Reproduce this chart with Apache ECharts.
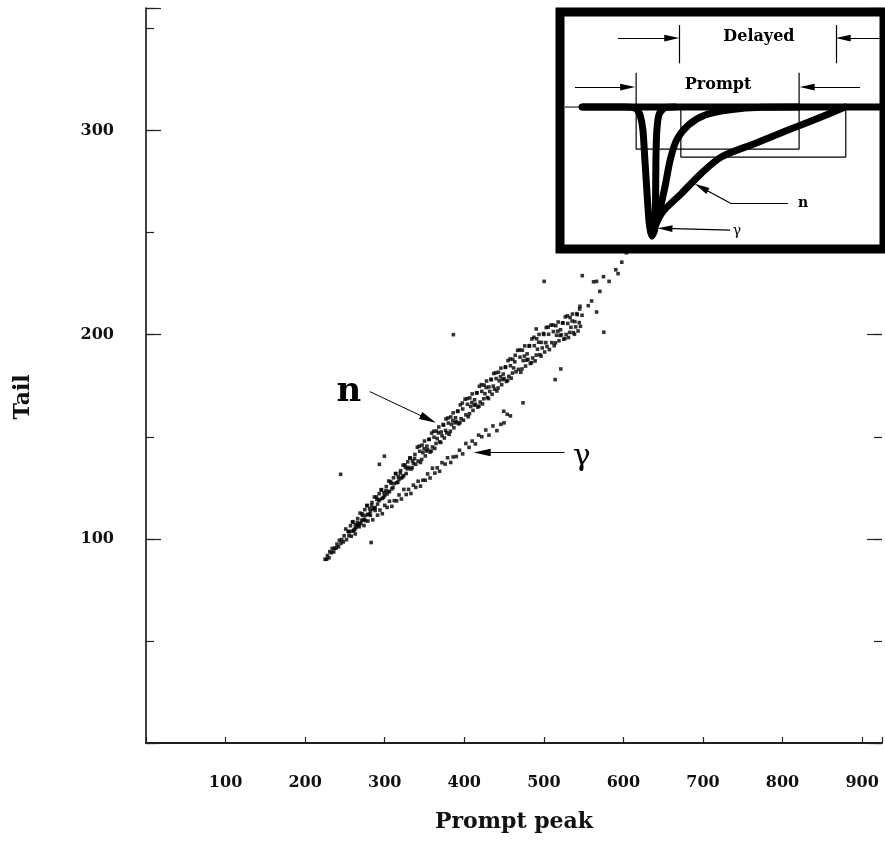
<!DOCTYPE html>
<html>
<head>
<meta charset="utf-8">
<script src="https://cdn.jsdelivr.net/npm/echarts@6/dist/echarts.min.js"></script>
<style>
html, body { margin: 0; padding: 0; background: #fff; }
#chart { width: 885px; height: 841px; }
</style>
</head>
<body>
<div id="chart"></div>
<script>
// tick labels
const xTickLabels = [100, 200, 300, 400, 500, 600, 700, 800, 900]
const yTickLabels = [100, 200, 300]

// upper band (neutrons): prompt peak, tail
const nBranch = [
  [225,90],[227,90],[228,91.8],[230,90.7],[231,93.7],[233,93.2],[234,95.3],[236,93.6],[237,95.4],[239,95.5],
  [240,97.4],[242,96.1],[243,99.3],[245,97.8],[246,99.6],[248,98.5],[249,101.5],
  [251,104.8],[252,99.6],[254,103.7],[255,101.5],[257,106.4],[258,103.7],[260,108.4],[261,104],[263,106.9],
  [264,105.6],[266,109.9],[267,106.5],[269,112.6],[270,107.5],[272,111.5],[273,109.2],[275,114.3],[276,111.5],
  [278,116.3],[279,112],[281,114.8],[282,113.4],[284,117.8],[285,114.6],[287,120.5],[288,115.3],[290,119.4],
  [291,117],[293,122.1],[294,119.3],[296,124.1],[297,119.8],[299,122.6],[300,121.2],[302,125.6],[303,122],
  [305,128.3],[306,123.1],[308,127.2],[309,124.5],[311,129.9],[312,127.1],[314,131.9],[315,127.5],[317,130.4],
  [318,129.1],[320,133.4],[321,129.8],[323,136.1],[324,131],[326,135],[327,132],[329,137.7],[330,135],
  [332,139.7],[333,134.2],[335,138.2],[336,136.9],[338,141.3],[339,136.5],
  [259.5,108.2],[262.5,104.8],[265.5,108],[268.5,107.5],[271.5,112.3],[274.5,109.6],[277.5,116.3],[280.5,112],
  [283.5,116.5],[286.5,115],[289.5,120.5],[292.5,118.7],[295.5,123.9],[298.5,120.3],[301.5,123.6],[304.5,123.2],
  [307.5,128],[310.5,125.2],[313.5,132],[316.5,127.7],[319.5,132.2],[322.5,130.3],[325.5,136.2],[328.5,134.3],
  [331.5,139.5],[334.5,134.8],[337.5,139.3],
  [341,144.9],[342,138.1],[344,142.9],[345,137.4],[347,145.9],[348,142.2],[350,147.9],[351,140.6],[353,145.4],
  [354,143.6],[356,148.8],[357,142.5],[359,151.8],[360,145],[362,149.8],[363,144.3],[365,152.8],[366,149.1],
  [368,154.8],[369,147.5],[371,152.3],[372,150.5],[374,155.7],[375,149.4],[377,158.7],[378,151.9],[380,156.7],
  [381,151.2],[383,159.7],[384,156],[386,161.7],[387,154.4],[389,159.3],[390,157.4],[392,162.6],[393,156.3],
  [395,165.6],[396,158.8],[398,163.6],[399,158.1],
  [343.5,145.4],[346.5,138.9],[349.5,144.1],[352.5,143],[355.5,148.6],[358.5,143],[361.5,152.7],[364.5,146.7],
  [367.5,151.9],[370.5,147.2],[373.5,156],[376.5,153.1],[379.5,159.2],[382.5,152.7],[385.5,157.9],[388.5,156.8],
  [391.5,162.4],[394.5,156.9],[397.5,166.5],
  [401,168.4],[402,160.7],[404,165.9],[405,159.8],[407,169],[408,164.8],[410,171],[411,162.9],[413,168.1],
  [414,165.9],[416,171.6],[417,164.5],[419,174.7],[420,167],[422,172.2],[423,166.1],[425,175.3],[426,171.1],
  [428,177.3],[429,169.2],[431,174.4],[432,172.2],[434,177.9],[435,170.8],[437,181],[438,173.3],[440,178.5],
  [441,172.4],[443,181.6],[444,177.4],[446,183.6],[447,175.5],[449,180.7],[450,178.5],[452,184.2],[453,177.1],
  [455,187.3],[456,179.6],[458,184.8],[459,178.7],[461,187.9],[462,183.7],[464,189.9],[465,181.8],
  [403.5,168.7],[406.5,161.3],[409.5,166.8],[412.5,165.4],[415.5,171.4],[418.5,165],[421.5,175.5],[424.5,168.6],
  [427.5,174.1],[430.5,168.7],[433.5,178.2],[436.5,174.8],[439.5,181.3],[442.5,173.9],[445.5,179.4],[448.5,178],
  [451.5,184],[454.5,177.6],[457.5,188.1],[460.5,181.2],[463.5,186.7],
  [467,192.3],[468,183],[470,189],[471,181.6],[473,192.4],[474,187.3],[476,194.5],[477,184.6],[479,190.6],
  [480,187.9],[482,194.6],[483,185.9],[485,197.9],[486,188.6],[488,194.6],[489,187.1],[491,198],[492,192.9],
  [494,200.1],[495,190.2],[497,196.2],[498,193.5],[500,200.1],[501,191.5],[503,203.5],[504,194.2],[506,200.2],
  [507,192.7],
  [469.5,192.5],[472.5,183.2],[475.5,189.5],[478.5,187.5],[481.5,194.4],[484.5,186.3],[487.5,198.7],[490.5,190],
  [493.5,196.3],[496.5,189.5],[499.5,200.6],[502.5,196.1],[505.5,203.7],
  [509,204.7],[510,196.1],[512,201.5],[513,194.6],[515,204.4],[516,199.7],[518,206.2],[519,197],[521,202.4],
  [522,199.9],[524,205.8],[525,197.8],[527,208.7],[528,200.1],[530,205.5],[531,198.6],[533,208.4],[534,203.6],
  [536,210.1],[537,201],[539,206.4],[540,203.8],[542,209.8],[543,201.8],[545,212.6],[546,204.1],[548,209.5],
  [511.5,204.7],[514.5,196],[517.5,201.7],[520.5,199.6],[523.5,205.7],[526.5,198.1],[529.5,209.2],[532.5,201.1],
  [535.5,206.7],[538.5,200.2],[541.5,210.3],[544.5,205.9]
]

// lower band (gammas)
const gammaBranch = [
  [255,103.4],[258,101.3],[261,104.2],[263,102.4],[266,106.9],[268,105.9],[271,109.1],[274,106.5],[276,108.9],
  [279,108.7],[282,111.5],[285,109.3],[288,113.9],[291,111.6],[294,114.1],[297,112.3],[300,116.4],[303,115.4],
  [306,118.4],[309,115.9],[312,118.7],[315,118.6],[318,121.5],[321,119.5],[324,124.2],[327,121.7],[330,124.2],
  [333,122.2],[336,126.3],[339,125.2],[342,128.2],[345,125.8],[348,128.7],[351,128.7],[354,131.8],[357,129.8],
  [360,134.6],[363,132.2],[366,134.8],[369,133.1],[372,137.3],[376,136.6],[379,139.7],[383,137.4],[386,140.1],
  [390,140.3],[394,143.4],[398,141.6],[402,146.7],[406,144.8],[410,147.9],[414,146.5],[418,150.8],[422,150],
  [427,153.3],[431,150.8],[436,155.3],[441,153],[446,156.1],[450,156.8],[454,161],[458,160.2]
]

// isolated events
const strays = [
  [386.3,200],[244.6,131.6],[283,98.2],[299.6,140.5],[293.3,136.5],[473.8,166.6],[514.2,178],[521.3,183.2],
  [575.4,201.2],[566.3,211.1],[555.8,214.2],[545.4,213.9],[570.4,221.2],[566.3,226.1],[582,226.1],[590.4,231.8],
  [593.3,229.9],[548.3,228.9],[500.4,226.1],[490.4,202.8],[449.6,162.5],[560,216.5],[562.5,225.9],[575,228.4],
  [603.8,240.1],[598,235.5],[612,241.5]
]

// inset: time (0-100) vs amplitude
const baseline = [[6.8, 0], [98.8, 0]]
const thinBaseline = [[1.5, 0], [99.5, 0]]
const spikePulse = [[6.8,0],[20.1,0],[23.5,-0.012],[24.7,-0.061],[25.6,-0.177],[26.2,-0.407],[26.9,-0.676],
  [27.5,-0.883],[28.3,-0.991],[29.2,-0.945],[29.5,-0.714],[29.6,-0.407],[29.9,-0.177],[30.6,-0.054],[32.4,-0.004],[35.5,0]]
const fastTail = [[28.1,-0.96],[30.2,-0.843],[32.4,-0.612],[34.0,-0.407],[36.0,-0.253],[39.6,-0.138],[44.8,-0.061],
  [51.9,-0.023],[62.3,-0.002],[73.5,0]]
const slowTail = [[28.7,-0.96],[31.4,-0.814],[37.6,-0.661],[43.7,-0.507],[49.9,-0.382],[60.2,-0.279],[70.4,-0.177],
  [80.8,-0.075],[88.0,0]]
const promptGate = [[23.5,0.264],[23.5,-0.323],[73.8,-0.323],[73.8,0.264]]
const delayedGate = [[37.3,0],[37.3,-0.384],[88.2,-0.384],[88.2,0]]

const serif = '"DejaVu Serif", "Liberation Serif", serif'
// filled, narrow arrowhead; the stray moves widen the box so it keeps its shape
const arrowHead = 'path://M10,0 L14.5,20 L5.5,20 Z M0,0 L0,0 M20,20 L20,20'

function arrow(from, to) {
  return [{ coord: from }, { coord: to }]
}
function bar(from, to) {
  return [{ coord: from, symbol: 'none' }, { coord: to, symbol: 'none' }]
}
function tag(name, coord, size, bold) {
  return {
    name: name,
    coord: coord,
    label: { fontSize: size, fontWeight: bold ? 'bold' : 'normal' }
  }
}

const chart = echarts.init(document.getElementById('chart'), null, { renderer: 'canvas' })

const tickLine = { color: '#222', width: 1.2 }
const frameLine = { color: '#111', width: 1.6 }

const option = {
  backgroundColor: '#ffffff',
  animation: false,
  textStyle: { fontFamily: serif },
  grid: [
    { left: 146, top: 8, width: 740, height: 735 },
    {
      left: 560, top: 12, width: 324, height: 237,
      show: true, backgroundColor: '#ffffff', borderColor: '#000', borderWidth: 9, z: 10
    }
  ],
  xAxis: [
    {
      gridIndex: 0, type: 'value', min: 0, max: 925, interval: 100, position: 'bottom',
      axisLine: { lineStyle: frameLine },
      axisTick: { inside: true, length: 6, lineStyle: tickLine },
      splitLine: { show: false },
      axisLabel: {
        margin: 32, color: '#111', fontSize: 16, fontWeight: 'bold', fontFamily: serif,
        formatter: v => (xTickLabels.includes(v) ? String(v) : '')
      },
      name: 'Prompt peak', nameLocation: 'middle', nameGap: 68,
      nameTextStyle: { fontSize: 22, fontWeight: 'bold', color: '#111', fontFamily: serif }
    },
    {
      gridIndex: 0, type: 'value', min: 0, max: 925, position: 'top',
      axisLine: { lineStyle: frameLine }, axisTick: { show: false },
      axisLabel: { show: false }, splitLine: { show: false }
    },
    { gridIndex: 1, type: 'value', min: 0, max: 100, show: false }
  ],
  yAxis: [
    {
      gridIndex: 0, type: 'value', min: 0, max: 360, interval: 100, position: 'left',
      axisLine: { lineStyle: frameLine },
      axisTick: { inside: true, length: 15, lineStyle: tickLine },
      splitLine: { show: false },
      axisLabel: {
        margin: 32, color: '#111', fontSize: 16, fontWeight: 'bold', fontFamily: serif,
        formatter: v => (yTickLabels.includes(v) ? String(v) : '')
      }
    },
    {
      gridIndex: 0, type: 'value', min: 0, max: 360, interval: 50, position: 'left',
      axisLine: { show: false }, axisTick: { inside: true, length: 8, lineStyle: tickLine },
      axisLabel: { show: false }, splitLine: { show: false }
    },
    {
      gridIndex: 0, type: 'value', min: 0, max: 360, interval: 100, position: 'right',
      axisLine: { show: false }, axisTick: { inside: true, length: 15, lineStyle: tickLine },
      axisLabel: { show: false }, splitLine: { show: false }
    },
    {
      gridIndex: 0, type: 'value', min: 0, max: 360, interval: 50, position: 'right',
      axisLine: { show: false }, axisTick: { inside: true, length: 8, lineStyle: tickLine },
      axisLabel: { show: false }, splitLine: { show: false }
    },
    { gridIndex: 1, type: 'value', min: -1.09, max: 0.73, show: false }
  ],
  graphic: [
    {
      type: 'text', x: 23, y: 397, rotation: Math.PI / 2,
      style: {
        text: 'Tail', fill: '#111', font: 'bold 22px ' + serif,
        align: 'center', verticalAlign: 'middle'
      }
    }
  ],
  series: [
    {
      type: 'scatter', xAxisIndex: 0, yAxisIndex: 0,
      symbol: 'rect', symbolSize: 3.6,
      itemStyle: { color: '#000' },
      data: nBranch.concat(gammaBranch, strays),
      markLine: {
        silent: true, animation: false,
        symbol: ['none', arrowHead], symbolSize: 17,
        label: { show: false },
        lineStyle: { color: '#000', width: 1, type: 'solid' },
        data: [
          arrow([281.3, 172.1], [354.8, 158.6]),
          arrow([526, 142.3], [422.5, 142.3])
        ]
      },
      markPoint: {
        silent: true, animation: false,
        symbol: 'rect', symbolSize: 1, itemStyle: { color: 'rgba(0,0,0,0)' },
        label: { show: true, position: 'inside', color: '#000', fontFamily: serif, formatter: p => p.name },
        data: [
          tag('n', [255, 171.9], 34, true),
          tag('γ', [547.5, 140.1], 30, false)
        ]
      }
    },
    {
      type: 'line', xAxisIndex: 2, yAxisIndex: 4, z: 12,
      symbol: 'none', data: thinBaseline,
      lineStyle: { color: '#000', width: 1 }
    },
    {
      type: 'line', xAxisIndex: 2, yAxisIndex: 4, z: 12,
      symbol: 'none', data: promptGate,
      lineStyle: { color: '#000', width: 1.2 },
      markLine: {
        silent: true, animation: false, z: 14,
        symbol: ['none', arrowHead], symbolSize: 15,
        label: { show: false },
        lineStyle: { color: '#000', width: 1.2, type: 'solid' },
        data: [
          arrow([4.6, 0.154], [20.9, 0.154]),
          arrow([92.6, 0.154], [76.3, 0.154]),
          arrow([17.9, 0.53], [34.5, 0.53]),
          arrow([99.7, 0.53], [87.4, 0.53]),
          bar([36.7, 0.63], [36.7, 0.336]),
          bar([85.2, 0.63], [85.2, 0.336]),
          bar([70.4, -0.737], [52.5, -0.737]),
          arrow([52.5, -0.737], [43.6, -0.617]),
          arrow([52.5, -0.945], [32.4, -0.932])
        ]
      }
    },
    {
      type: 'line', xAxisIndex: 2, yAxisIndex: 4, z: 12,
      symbol: 'none', data: delayedGate,
      lineStyle: { color: '#000', width: 1.2 }
    },
    {
      type: 'line', xAxisIndex: 2, yAxisIndex: 4, z: 13,
      symbol: 'none', data: baseline,
      lineStyle: { color: '#000', width: 7, cap: 'butt' }
    },
    {
      type: 'line', xAxisIndex: 2, yAxisIndex: 4, z: 13,
      symbol: 'none', data: spikePulse, smooth: 0.2,
      lineStyle: { color: '#000', width: 7, cap: 'round', join: 'round' }
    },
    {
      type: 'line', xAxisIndex: 2, yAxisIndex: 4, z: 13,
      symbol: 'none', data: fastTail, smooth: 0.3,
      lineStyle: { color: '#000', width: 7, cap: 'round', join: 'round' }
    },
    {
      type: 'line', xAxisIndex: 2, yAxisIndex: 4, z: 13,
      symbol: 'none', data: slowTail, smooth: 0.3,
      lineStyle: { color: '#000', width: 7, cap: 'round', join: 'round' },
      markPoint: {
        silent: true, animation: false, z: 14,
        symbol: 'rect', symbolSize: 1, itemStyle: { color: 'rgba(0,0,0,0)' },
        label: { show: true, position: 'inside', color: '#000', fontFamily: serif, formatter: p => p.name },
        data: [
          tag('Delayed', [61.4, 0.538], 16, true),
          tag('Prompt', [48.8, 0.169], 16, true),
          tag('n', [75.0, -0.737], 14, true),
          tag('γ', [54.6, -0.952], 14, false)
        ]
      }
    }
  ]
}

chart.setOption(option)
window.addEventListener('resize', () => chart.resize())
</script>
</body>
</html>
